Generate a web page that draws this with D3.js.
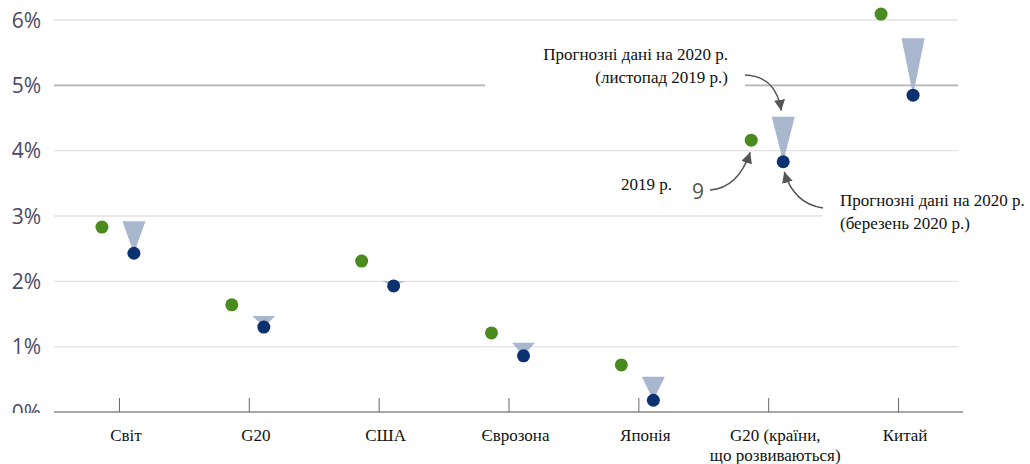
<!DOCTYPE html>
<html><head><meta charset="utf-8">
<script src="https://cdn.jsdelivr.net/npm/d3@7"></script>
<style>
html,body{margin:0;padding:0;background:#fff;}
svg{display:block;}
</style></head>
<body>
<svg id="chart" width="1030" height="464"></svg>
<script>
const categories = ["Світ","G20","США","Єврозона","Японія","G20 (країни,|що розвиваються)","Китай"];
const values2019 = [2.83, 1.64, 2.31, 1.21, 0.72, 4.16, 6.09];
const forecastNov2019 = [2.92, 1.47, 2.0, 1.06, 0.54, 4.52, 5.72];
const forecastMar2020 = [2.43, 1.30, 1.93, 0.86, 0.18, 3.83, 4.85];
const yTicks = [0,1,2,3,4,5,6];
const yTickLabels = ["0%","1%","2%","3%","4%","5%","6%"];

const svg = d3.select("#chart");
const x = d3.scaleBand().domain(categories).range([53, 962]);
const y = d3.scaleLinear().domain([0, 6]).range([412, 20]);
const cx = c => x(c) + x.bandwidth()/2;
const off = 16;

const defs = svg.append("defs");
defs.append("marker").attr("id","ah").attr("viewBox","0 0 10 10").attr("refX",10).attr("refY",5)
  .attr("markerWidth",11).attr("markerHeight",11).attr("markerUnits","userSpaceOnUse").attr("orient","auto")
  .append("path").attr("d","M0,0L10,5L0,10Z").attr("fill","#555");
defs.append("clipPath").attr("id","clipY").append("rect").attr("x",0).attr("y",0).attr("width",60).attr("height",413);

// gridlines
const grid = svg.append("g");
yTicks.filter(t => t > 0).forEach(t => {
  const yy = y(t);
  let segs = [[54, 958]];
  if (t === 5) segs = [[54, 485], [745, 958]];
  if (t === 3) segs = [[54, 822]];
  segs.forEach(s => grid.append("line").attr("x1", s[0]).attr("x2", s[1]).attr("y1", yy).attr("y2", yy)
    .attr("stroke", t === 5 ? "#b4b4b4" : "#e2e2e2").attr("stroke-width", t === 5 ? 1.6 : 1.3));
});

// y labels
svg.append("g").attr("clip-path","url(#clipY)").selectAll("text").data(yTicks).join("text")
  .attr("x", 41).attr("y", d => y(d)).attr("dy","0.36em").attr("text-anchor","end")
  .attr("font-family","'Open Sans', sans-serif").attr("font-size", 21).attr("fill","#4c4867")
  .text((d,i) => yTickLabels[i]);

// baseline & ticks
svg.append("line").attr("x1",54).attr("x2",963).attr("y1",y(0)).attr("y2",y(0)).attr("stroke","#8a8a8a").attr("stroke-width",1.5);
svg.append("g").selectAll("line").data(categories).join("line")
  .attr("x1", d => cx(d)+1.5).attr("x2", d => cx(d)+1.5).attr("y1", y(0)-14).attr("y2", y(0))
  .attr("stroke","#666").attr("stroke-width",1);

// x labels
const serif = "'Liberation Serif', 'Times New Roman', serif";
const xl = svg.append("g").selectAll("text").data(categories).join("text")
  .attr("y", 441).attr("text-anchor","middle")
  .attr("font-family", serif).attr("font-size",17).attr("fill","#111");
xl.each(function(d){
  const parts = d.split("|");
  const t = d3.select(this);
  parts.forEach((p,i) => t.append("tspan").attr("x", cx(d) + 8).attr("dy", i ? 20 : 0).text(p));
});

// triangles
const tw = 11.5;
svg.append("g").selectAll("path").data(categories).join("path")
  .attr("d", (d,i) => {
    const xx = cx(d) + off, yt = y(forecastNov2019[i]), yb = y(forecastMar2020[i]);
    return `M${xx-tw},${yt}L${xx+tw},${yt}L${xx},${yb}Z`;
  }).attr("fill","#a8b6ce");

// dots
svg.append("g").selectAll("circle").data(categories).join("circle")
  .attr("cx", d => cx(d) - off).attr("cy", (d,i) => y(values2019[i])).attr("r", 6.5).attr("fill","#4a8a1e");
svg.append("g").selectAll("circle").data(categories).join("circle")
  .attr("cx", d => cx(d) + off).attr("cy", (d,i) => y(forecastMar2020[i])).attr("r", 6.5).attr("fill","#0b3170");

// annotations
const ann = svg.append("g").attr("font-family", serif).attr("font-size", 17).attr("fill","#111");
ann.append("text").attr("x",728).attr("y",60).attr("text-anchor","end").text("Прогнозні дані на 2020 р.");
ann.append("text").attr("x",728).attr("y",83).attr("text-anchor","end").text("(листопад 2019 р.)");
ann.append("text").attr("x",621).attr("y",190).text("2019 р.");
ann.append("text").attr("x",840).attr("y",206).text("Прогнозні дані на 2020 р.");
ann.append("text").attr("x",840).attr("y",229).text("(березень 2020 р.)");
svg.append("text").attr("x",692).attr("y",199).attr("font-family","'Open Sans', sans-serif").attr("font-size",21).attr("fill","#555").text("9");

const ci = categories.length - 2;
const gx = cx(categories[ci]) - off, bx = cx(categories[ci]) + off;
const arrows = [
  `M745,75 Q776,76 ${bx-2},${y(forecastNov2019[ci]) - 6}`,
  `M710,190 Q738,188 ${gx-1},${y(values2019[ci]) + 12}`,
  `M823,208 Q794,204 ${bx+1},${y(forecastMar2020[ci]) + 10}`
];
svg.append("g").selectAll("path").data(arrows).join("path")
  .attr("d", d => d).attr("fill","none").attr("stroke","#555").attr("stroke-width",1.5).attr("marker-end","url(#ah)");
</script>
</body></html>
